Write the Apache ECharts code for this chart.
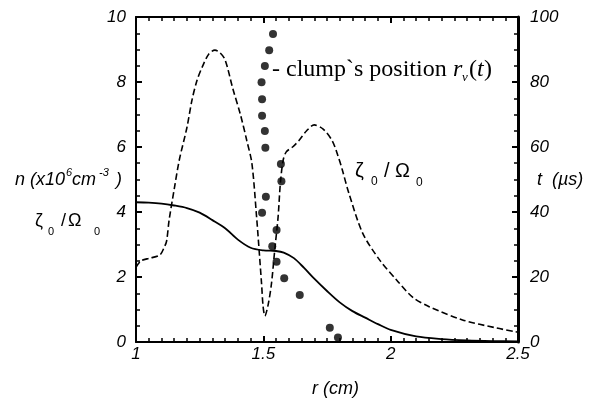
<!DOCTYPE html>
<html>
<head>
<meta charset="utf-8">
<script src="https://cdn.jsdelivr.net/npm/echarts@6/dist/echarts.min.js"></script>
<style>html,body{margin:0;padding:0;background:#fff}#c{width:596px;height:404px}</style>
</head>
<body>
<div id="c"></div>
<script>
// density n (x10^6 cm^-3) vs r (cm)
const nR = [1.0,1.05,1.1,1.15,1.2,1.25,1.3,1.35,1.4,1.45,1.5,1.55,1.58,1.62,1.66,1.7,1.75,1.8,1.85,1.9,1.95,2.0,2.1,2.2,2.3,2.4,2.5];
const nV = [4.3,4.29,4.26,4.2,4.12,3.98,3.75,3.5,3.15,2.9,2.82,2.8,2.75,2.58,2.28,1.95,1.57,1.22,0.95,0.75,0.55,0.37,0.17,0.09,0.05,0.03,0.02];
// zeta0 / Omega0 vs r
const zR = [1.0,1.02,1.055,1.094,1.11,1.12,1.13,1.15,1.17,1.2,1.22,1.24,1.26,1.285,1.31,1.33,1.35,1.38,1.41,1.435,1.455,1.473,1.493,1.499,1.506,1.519,1.532,1.545,1.558,1.567,1.578,1.59,1.615,1.64,1.67,1.70,1.735,1.77,1.79,1.81,1.835,1.89,1.957,2.024,2.086,2.153,2.282,2.416,2.5];
const zV = [2.3,2.5,2.58,2.68,2.9,3.1,3.75,4.7,5.6,6.6,7.45,8.06,8.46,8.85,8.98,8.9,8.68,7.8,7.0,6.2,5.5,3.9,1.8,1.1,0.8,1.15,1.8,2.85,3.85,4.9,5.6,5.85,6.0,6.2,6.5,6.68,6.55,6.2,5.8,5.3,4.6,3.35,2.52,1.9,1.38,1.08,0.68,0.43,0.3];
// clump's position r_v(t): r (cm), t (us)
const dotR = [1.538,1.523,1.506,1.493,1.495,1.495,1.506,1.508,1.569,1.571,1.51,1.495,1.552,1.535,1.552,1.582,1.643,1.761,1.793];
const dotT = [94.8,89.8,84.9,79.9,74.7,69.6,64.9,59.8,54.8,49.5,44.7,39.8,34.5,29.5,24.7,19.6,14.5,4.4,1.4];
// tick labels
const xTicks = ['1','1.5','2','2.5'];
const yLeftTicks = ['0','2','4','6','8','10'];
const yRightTicks = ['0','20','40','60','80','100'];

const chart = echarts.init(document.getElementById('c'), null, {renderer:'canvas'});
const lab = {fontStyle:'italic', fontSize:17, color:'#000', fontFamily:'Liberation Sans'};
function xCfg(pos, show){
  return {gridIndex:0, type:'value', min:1, max:2.5, interval:0.5, position:pos,
    axisLine:{show:true, onZero:false, lineStyle:{color:'#000', width:2}},
    axisTick:{show:true, inside:true, length:6, lineStyle:{color:'#000', width:2}},
    minorTick:{show:true, splitNumber:10, length:4, lineStyle:{color:'#000', width:1.5}},
    splitLine:{show:false},
    axisLabel:Object.assign({show:show, margin:4, formatter:(v,i)=>xTicks[i]}, lab)};
}
function yCfg(pos, max, iv, t, lw, margin){
  return {gridIndex:0, type:'value', min:0, max:max, interval:iv, position:pos,
    axisLine:{show:true, onZero:false, lineStyle:{color:'#000', width:lw}},
    axisTick:{show:true, inside:true, length:6, lineStyle:{color:'#000', width:2}},
    minorTick:{show:true, splitNumber:4, length:4, lineStyle:{color:'#000', width:1.5}},
    splitLine:{show:false},
    axisLabel:Object.assign({margin:margin, formatter:(v,i)=>t[i]}, lab)};
}
// texts placed by their vertical middle ym (converted to top-aligned y)
function txt(x, ym, s, size, opts){
  return {type:'text', z:100, x:x, y:Math.round(ym - size/2),
    style:Object.assign({text:s, fontSize:size, fontFamily:'Liberation Sans', fill:'#000'}, opts || {})};
}
const serif = {fontFamily:'Liberation Serif'};
const serifI = {fontFamily:'Liberation Serif', fontStyle:'italic'};
const it = {fontStyle:'italic'};
chart.setOption({
  animation:false,
  backgroundColor:'#fff',
  grid:[{left:136, width:382, top:17, height:325}],
  xAxis:[xCfg('bottom', true), xCfg('top', false)],
  yAxis:[yCfg('left', 10, 2, yLeftTicks, 2, 10), yCfg('right', 100, 20, yRightTicks, 3, 12)],
  series:[
    {type:'line', name:'n', xAxisIndex:0, yAxisIndex:0, data:nR.map((r,i)=>[r,nV[i]]),
     showSymbol:false, smooth:0.3, lineStyle:{color:'#000', width:1.8}},
    {type:'line', name:'zeta', xAxisIndex:0, yAxisIndex:0, data:zR.map((r,i)=>[r,zV[i]]),
     showSymbol:false, smooth:0.3, lineStyle:{color:'#000', width:1.6, type:'dashed'}},
    {type:'scatter', name:'clump', xAxisIndex:0, yAxisIndex:1, data:dotR.map((r,i)=>[r,dotT[i]]),
     symbol:'circle', symbolSize:8, itemStyle:{color:'#000'}}
  ],
  graphic:[
    // clump's position r_v(t)
    txt(272, 70, '- clump`s position ', 24, serif),
    txt(453, 70, 'r', 24, serifI),
    txt(462, 77, 'v', 13, serifI),
    txt(469, 70, '(', 24, serif),
    txt(477, 70, 't', 24, serifI),
    txt(484, 70, ')', 24, serif),
    // inner zeta0 / Omega0
    txt(355, 171, 'ζ', 20),
    txt(371, 182, '0', 12),
    txt(384, 171, '/', 20),
    txt(395, 171, 'Ω', 20),
    txt(416, 183, '0', 12),
    // left axis names
    txt(15, 180, 'n (x10', 18, it),
    txt(66, 172, '6', 11, it),
    txt(72, 180, 'cm', 18, it),
    txt(99, 172, '-3', 11, it),
    txt(116, 180, ')', 18, it),
    txt(35, 221, 'ζ', 18),
    txt(48, 231, '0', 11),
    txt(61, 221, '/', 18),
    txt(68, 221, 'Ω', 18),
    txt(94, 231, '0', 11),
    // right axis name
    txt(537, 180, 't  (µs)', 18, it),
    // x axis name
    txt(312, 389, 'r (cm)', 18, it)
  ]
});
</script>
</body>
</html>
